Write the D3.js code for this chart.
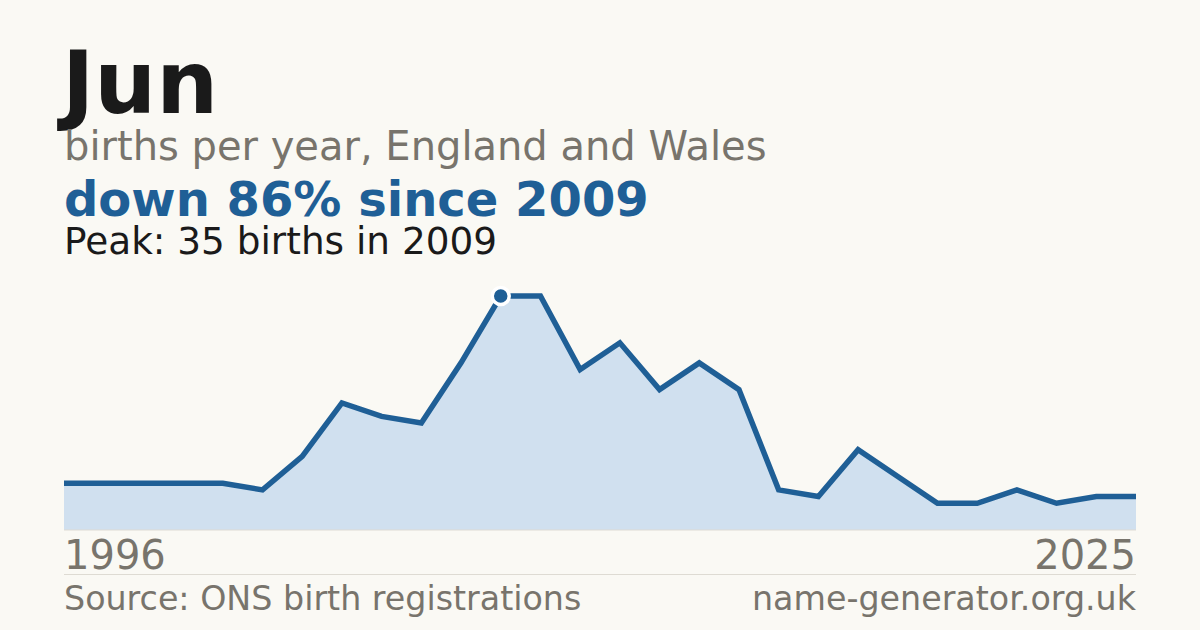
<!DOCTYPE html>
<html>
<head>
<meta charset="utf-8">
<script src="https://cdn.jsdelivr.net/npm/d3@7"></script>
<style>
  html, body { margin: 0; padding: 0; background: #faf9f4; }
  svg { display: block; font-family: "DejaVu Sans", sans-serif; }
</style>
</head>
<body>
<svg id="chart" width="1200" height="630"></svg>
<script>
"use strict";

// births per year for the name
var years = [1996, 1997, 1999, 2000, 2001, 2002, 2004, 2005, 2006, 2007, 2008, 2009, 2010, 2011,
             2012, 2013, 2014, 2015, 2016, 2017, 2018, 2019, 2020, 2021, 2022, 2023, 2024, 2025];
var births = [7, 7, 7, 7, 7, 6, 11, 19, 17, 16, 25, 35, 35, 24,
              28, 21, 25, 21, 6, 5, 12, 8, 4, 4, 6, 4, 5, 5];

var nameLabel = "Jun";
var subtitle = "births per year, England and Wales";
var source = "Source: ONS birth registrations";
var site = "name-generator.org.uk";

var blue = "#1f5f96";
var grey = "#78746c";

var svg = d3.select("#chart");
var plotLeft = 64, plotRight = 1136;
var plotTop = 296, plotBottom = 530;

var data = years.map(function(y, i) { return { year: y, value: births[i] }; });

var peakIdx = d3.maxIndex(births);
var peak = data[peakIdx];
var last = data[data.length - 1];
var change = Math.round((1 - last.value / peak.value) * 100);

var x = d3.scalePoint()
    .domain(years)
    .range([plotLeft, plotRight]);

var y = d3.scaleLinear()
    .domain([0, d3.max(births)])
    .range([plotBottom, plotTop]);

// headings
svg.append("text")
    .attr("x", 62).attr("y", 113)
    .attr("font-size", 87).attr("font-weight", "bold")
    .attr("fill", "#1a1a1a")
    .text(nameLabel);

svg.append("text")
    .attr("x", 64).attr("y", 160)
    .attr("font-size", 40)
    .attr("fill", grey)
    .text(subtitle);

svg.append("text")
    .attr("x", 64).attr("y", 216)
    .attr("font-size", 48).attr("font-weight", "bold")
    .attr("fill", blue)
    .text("down " + change + "% since " + peak.year);

svg.append("text")
    .attr("x", 64).attr("y", 254)
    .attr("font-size", 37.4)
    .attr("fill", "#1a1a1a")
    .text("Peak: " + peak.value + " births in " + peak.year);

// area + line
var area = d3.area()
    .x(function(d) { return x(d.year); })
    .y0(y(0))
    .y1(function(d) { return y(d.value); });

var line = d3.line()
    .x(function(d) { return x(d.year); })
    .y(function(d) { return y(d.value); });

svg.append("path")
    .datum(data)
    .attr("d", area)
    .attr("fill", "#d0e0ef");

svg.append("line")
    .attr("x1", plotLeft).attr("x2", plotRight)
    .attr("y1", y(0)).attr("y2", y(0))
    .attr("stroke", "#dedbd3")
    .attr("stroke-width", 1);

svg.append("path")
    .datum(data)
    .attr("d", line)
    .attr("fill", "none")
    .attr("stroke", blue)
    .attr("stroke-width", 5.5)
    .attr("stroke-linejoin", "miter");

svg.append("circle")
    .attr("cx", x(peak.year))
    .attr("cy", y(peak.value))
    .attr("r", 8.5)
    .attr("fill", blue)
    .attr("stroke", "#ffffff")
    .attr("stroke-width", 3.5);

// year labels
svg.append("text")
    .attr("x", plotLeft).attr("y", 569)
    .attr("font-size", 40)
    .attr("fill", grey)
    .text(years[0]);

svg.append("text")
    .attr("x", plotRight).attr("y", 569)
    .attr("text-anchor", "end")
    .attr("font-size", 40)
    .attr("fill", grey)
    .text(years[years.length - 1]);

// footer
svg.append("line")
    .attr("x1", plotLeft).attr("x2", plotRight)
    .attr("y1", 574.5).attr("y2", 574.5)
    .attr("stroke", "#dedbd3")
    .attr("stroke-width", 1);

svg.append("text")
    .attr("x", plotLeft).attr("y", 610)
    .attr("font-size", 33.3)
    .attr("fill", grey)
    .text(source);

svg.append("text")
    .attr("x", plotRight).attr("y", 610)
    .attr("text-anchor", "end")
    .attr("font-size", 33.3)
    .attr("fill", grey)
    .text(site);
</script>
</body>
</html>
